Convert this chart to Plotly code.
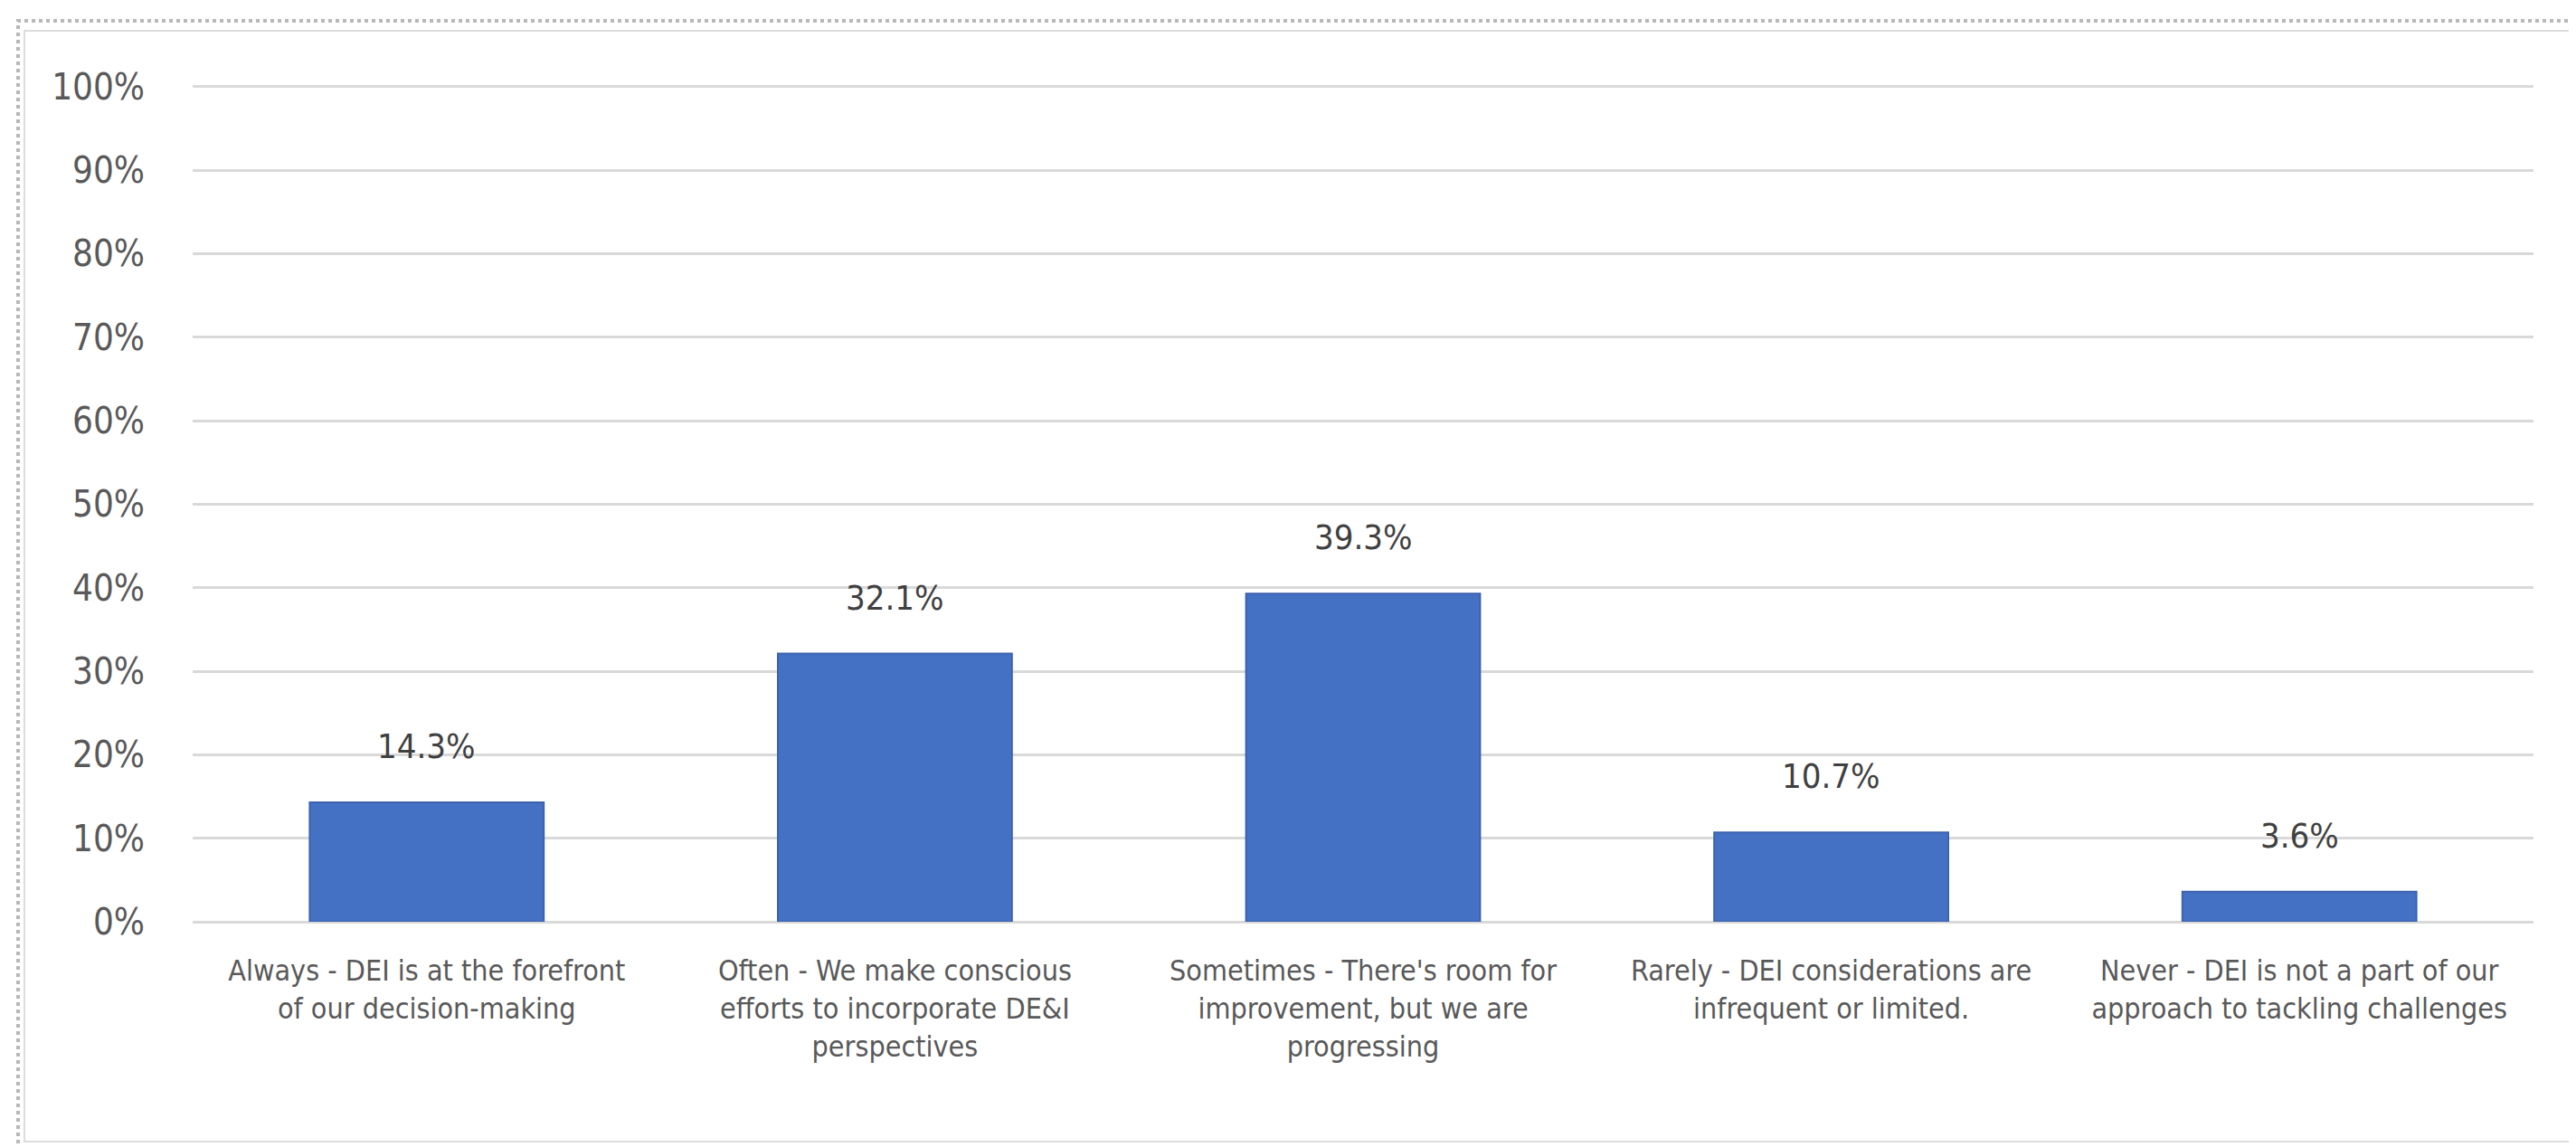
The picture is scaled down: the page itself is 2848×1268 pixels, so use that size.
import plotly.graph_objects as go

categories = [
    "Always - DEI is at the forefront<br>of our decision-making",
    "Often - We make conscious<br>efforts to incorporate DE&amp;I<br>perspectives",
    "Sometimes - There's room for<br>improvement, but we are<br>progressing",
    "Rarely - DEI considerations are<br>infrequent or limited.",
    "Never - DEI is not a part of our<br>approach to tackling challenges",
]
values = [0.143, 0.321, 0.393, 0.107, 0.036]
ytick_vals = [i / 10 for i in range(11)]
ytick_text = [f"{i * 10}%" for i in range(11)]

W, H = 2848, 1268
L, R, T, B = 205, 2793, 84, 1011
FONT = "Liberation Sans Narrow, DejaVu Sans Condensed, Arial Narrow, sans-serif"

fig = go.Figure()
fig.add_trace(go.Bar(
    x=list(range(len(categories))),
    y=values,
    marker=dict(color="#4471c4", line=dict(color="#3c62ad", width=2)),
    width=0.5,
    hoverinfo="skip",
))

for i, v in enumerate(values):
    fig.add_annotation(
        x=i, y=v, text=f"{v * 100:.1f}%", showarrow=False,
        yanchor="bottom", yshift=38,
        font=dict(family=FONT, size=38, color="#404040"),
    )

def px_to_paper_x(px):
    return (px - L) / (R - L)

def px_to_paper_y(py):
    return (B - py) / (B - T)

# outer dotted border and inner solid border
fig.add_shape(type="rect", xref="paper", yref="paper",
              x0=px_to_paper_x(12), x1=px_to_paper_x(2842),
              y0=px_to_paper_y(1262), y1=px_to_paper_y(15),
              line=dict(color="#b8b8b8", width=4, dash="dot"), layer="below")
fig.add_shape(type="rect", xref="paper", yref="paper",
              x0=px_to_paper_x(19), x1=px_to_paper_x(2835),
              y0=px_to_paper_y(1254), y1=px_to_paper_y(26),
              line=dict(color="#dcdcdc", width=2), layer="below")

fig.update_layout(
    width=W, height=H,
    margin=dict(l=L, r=W - R, t=T, b=H - B, pad=0),
    paper_bgcolor="white", plot_bgcolor="white",
    showlegend=False,
    font=dict(family=FONT, color="#595959"),
    xaxis=dict(
        tickmode="array", tickvals=list(range(len(categories))), ticktext=categories,
        range=[-0.5, len(categories) - 0.5],
        showgrid=False, zeroline=False, showline=False,
        tickfont=dict(family=FONT, size=32, color="#595959"),
        ticks="outside", ticklen=26, tickcolor="rgba(0,0,0,0)",
    ),
    yaxis=dict(
        range=[0, 1.004], tickmode="array", tickvals=ytick_vals, ticktext=ytick_text,
        showgrid=True, gridcolor="#d9d9d9", gridwidth=3,
        zeroline=True, zerolinecolor="#d9d9d9", zerolinewidth=3,
        showline=False,
        tickfont=dict(family=FONT, size=40, color="#595959"),
        ticks="outside", ticklen=44, tickcolor="rgba(0,0,0,0)",
    ),
)

fig.write_html("out.html")
